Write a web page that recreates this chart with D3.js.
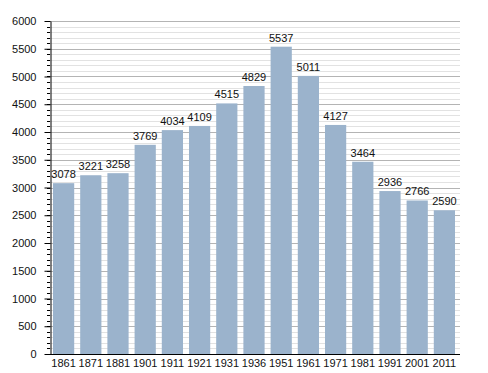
<!DOCTYPE html>
<html>
<head>
<meta charset="utf-8">
<script src="https://cdn.jsdelivr.net/npm/d3@7"></script>
<style>
  body { margin: 0; background: #fff; }
  text { font-family: "Liberation Sans", Arial, sans-serif; font-size: 11px; fill: #111; }
</style>
</head>
<body>
<svg id="chart" width="488" height="373"></svg>
<script>
// census years and population
var years = ["1861","1871","1881","1901","1911","1921","1931","1936","1951","1961","1971","1981","1991","2001","2011"];
var population = [3078,3221,3258,3769,4034,4109,4515,4829,5537,5011,4127,3464,2936,2766,2590];
var yTicks = [0,500,1000,1500,2000,2500,3000,3500,4000,4500,5000,5500,6000];

var svg = d3.select("#chart"),
    margin = {top: 21, right: 30, bottom: 19, left: 50},
    width = 488 - margin.left - margin.right,
    height = 373 - margin.top - margin.bottom;

var g = svg.append("g")
    .attr("transform", "translate(" + margin.left + "," + margin.top + ")");

var x = d3.scaleBand()
    .domain(years)
    .range([0, width])
    .paddingInner(0.22)
    .paddingOuter(0.11);

var y = d3.scaleLinear()
    .domain([0, 6000])
    .range([height, 0]);

// minor gridlines every 100
g.append("g")
  .selectAll("line")
  .data(d3.range(100, 6001, 100).filter(function(d) { return d % 500 != 0; }))
  .enter().append("line")
    .attr("x1", 0).attr("x2", width + 2)
    .attr("y1", function(d) { return Math.round(y(d)) + 0.5; })
    .attr("y2", function(d) { return Math.round(y(d)) + 0.5; })
    .attr("stroke", "#e2e2e2");

// major gridlines
g.append("g")
  .selectAll("line")
  .data(yTicks.slice(1))
  .enter().append("line")
    .attr("x1", 0).attr("x2", width + 2)
    .attr("y1", function(d) { return Math.round(y(d)) + 0.5; })
    .attr("y2", function(d) { return Math.round(y(d)) + 0.5; })
    .attr("stroke", "#b4b4b4");

// bars
g.selectAll(".bar")
  .data(population)
  .enter().append("rect")
    .attr("class", "bar")
    .attr("x", function(d, i) { return x(years[i]); })
    .attr("y", function(d) { return y(d); })
    .attr("width", x.bandwidth())
    .attr("height", function(d) { return height - y(d); })
    .attr("fill", "#9bb3cc");

// value labels
g.selectAll(".val")
  .data(population)
  .enter().append("text")
    .attr("class", "val")
    .attr("x", function(d, i) { return x(years[i]) + x.bandwidth() / 2; })
    .attr("y", function(d) { return y(d) - 5; })
    .attr("text-anchor", "middle")
    .text(function(d) { return d; });

// minor y ticks
g.append("g")
  .selectAll("line")
  .data(d3.range(100, 6001, 100))
  .enter().append("line")
    .attr("x1", -3).attr("x2", 0)
    .attr("y1", function(d) { return Math.round(y(d)) + 0.5; })
    .attr("y2", function(d) { return Math.round(y(d)) + 0.5; })
    .attr("stroke", "#000");

// y axis
var yAxis = g.append("g")
    .attr("transform", "translate(0.5,0)")
    .call(d3.axisLeft(y).tickValues(yTicks).tickFormat(d3.format("d"))
      .tickSize(6).tickPadding(8).tickSizeOuter(0));
yAxis.select(".domain").attr("stroke", "#000");
yAxis.selectAll("text").style("font-size", "11px").attr("fill", "#111");

// x axis
var xAxis = g.append("g")
    .attr("transform", "translate(0," + (height + 0.5) + ")")
    .call(d3.axisBottom(x).tickSize(0).tickPadding(5).tickSizeOuter(0));
xAxis.select(".domain").attr("stroke", "#000").attr("d", "M-5,0H" + (width + 2));
xAxis.selectAll("text").style("font-size", "11px").attr("fill", "#111");
</script>
</body>
</html>
